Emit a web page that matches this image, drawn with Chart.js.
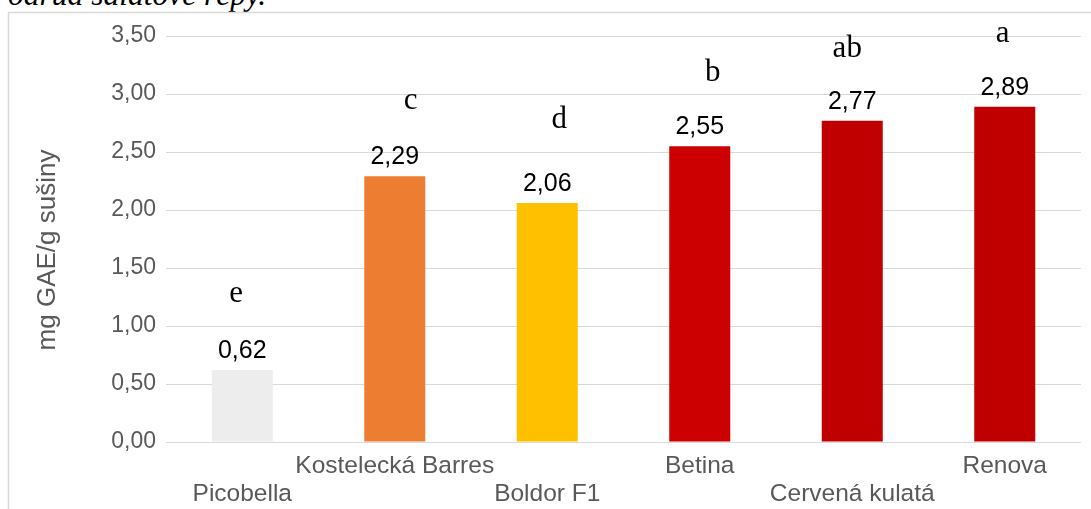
<!DOCTYPE html>
<html>
<head>
<meta charset="utf-8">
<script src="https://cdn.jsdelivr.net/npm/chart.js@4"></script>
<style>
html,body{margin:0;padding:0;background:#fff;overflow:hidden;}
#wrap{position:relative;width:1091px;height:509px;overflow:hidden;}
#cap{position:absolute;left:8px;top:-23px;font-family:"Liberation Serif",serif;font-style:italic;font-size:31.5px;line-height:36px;color:#000;white-space:nowrap;}
canvas{position:absolute;left:0;top:0;}
</style>
</head>
<body>
<div id="wrap">
<div id="cap">odrůd salátové řepy.</div>
<canvas id="c" width="1091" height="509"></canvas>
</div>
<script>
const categories = ["Picobella", "Kostelecká Barres", "Boldor F1", "Betina", "Cervená kulatá", "Renova"];
const values = [0.62, 2.29, 2.06, 2.55, 2.77, 2.89];
const letters = ["e", "c", "d", "b", "ab", "a"];
const yTicks = [0, 0.5, 1, 1.5, 2, 2.5, 3, 3.5];
const yTitle = "mg GAE/g sušiny";

const barColors = ["#EDEDED", "#ED7D31", "#FFC000", "#CC0000", "#C00000", "#C00000"];
// label placement nudges (px) for the significance letters, relative to bar top
const letterNudge = [[-6, -68], [16, -67], [12, -75], [13, -65], [-5, -64], [-2, -65]];

const fmt = v => v.toFixed(2).replace('.', ',');

const decor = {
  id: 'decor',
  beforeDraw(chart) {
    const ctx = chart.ctx;
    ctx.save();
    ctx.strokeStyle = '#D9D9D9';
    ctx.lineWidth = 1.5;
    ctx.beginPath();
    ctx.moveTo(8.5, 509);
    ctx.lineTo(8.5, 12.5);
    ctx.lineTo(1091, 12.5);
    ctx.stroke();
    ctx.restore();
  },
  afterDraw(chart) {
    const ctx = chart.ctx;
    const meta = chart.getDatasetMeta(0);
    ctx.save();
    ctx.translate(48, 250);
    ctx.rotate(-Math.PI / 2);
    ctx.fillStyle = '#595959';
    ctx.font = '26px "Liberation Sans", Arial, sans-serif';
    ctx.textAlign = 'center';
    ctx.textBaseline = 'middle';
    ctx.fillText(yTitle, 0, 0);
    ctx.restore();
    ctx.save();
    meta.data.forEach((bar, i) => {
      ctx.fillStyle = '#000';
      ctx.font = '25px "Liberation Sans", Arial, sans-serif';
      ctx.textAlign = 'center';
      ctx.textBaseline = 'alphabetic';
      ctx.fillText(fmt(values[i]), bar.x, bar.y - 12);
      ctx.font = '31px "Liberation Serif", "Times New Roman", serif';
      ctx.fillText(letters[i], bar.x + letterNudge[i][0], bar.y + letterNudge[i][1]);
    });
    ctx.restore();
  }
};

const xLabels = categories.map((c, i) => i % 2 === 0 ? ["", c] : [c]);

new Chart(document.getElementById('c'), {
  type: 'bar',
  data: {
    labels: xLabels,
    datasets: [{
      data: values,
      backgroundColor: barColors,
      borderWidth: 0,
      barPercentage: 0.4,
      categoryPercentage: 1.0
    }]
  },
  options: {
    responsive: false,
    animation: false,
    devicePixelRatio: 1,
    layout: { padding: { left: 8, top: 36, right: 10, bottom: 0 } },
    plugins: { legend: { display: false }, tooltip: { enabled: false } },
    scales: {
      x: {
        grid: { display: false, drawTicks: false },
        border: { display: false },
        ticks: {
          autoSkip: false, maxRotation: 0, minRotation: 0,
          color: '#595959', padding: 10,
          font: { family: '"Liberation Sans", Arial, sans-serif', size: 24.5, lineHeight: 1.15 }
        },
        afterFit(s) { s.height = 67; }
      },
      y: {
        min: 0, max: 3.5,
        afterBuildTicks(s) { s.ticks = yTicks.map(v => ({ value: v })); },
        grid: { color: '#D9D9D9', lineWidth: 1, drawTicks: false },
        border: { display: false },
        ticks: {
          color: '#595959', padding: 10,
          font: { family: '"Liberation Sans", Arial, sans-serif', size: 23 },
          callback: v => fmt(v)
        },
        afterFit(s) { s.width = 158; }
      }
    }
  },
  plugins: [decor]
});
</script>
</body>
</html>
